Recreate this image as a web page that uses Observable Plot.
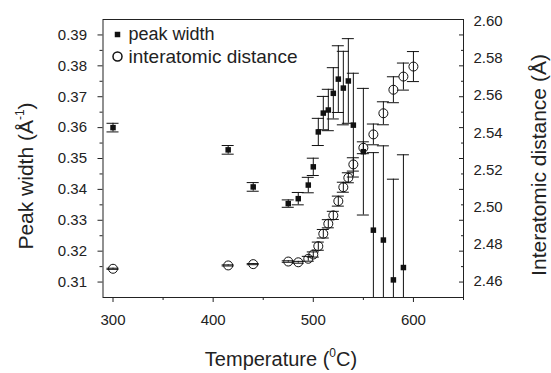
<!DOCTYPE html>
<html><head><meta charset="utf-8">
<script src="https://cdn.jsdelivr.net/npm/d3@7"></script>
<script src="https://cdn.jsdelivr.net/npm/@observablehq/plot@0.6"></script>
<style>
body{margin:0;background:#fff;}
svg{font-family:"Liberation Sans",Arial,sans-serif;}
</style>
</head><body><div id="chart"></div>
<script>
// Peak width (left axis, filled squares)
const widthTemps = [300,415,440,475,485,495,500,505,510,515,520,525,530,535,540,550,560,570,580,590];
const widthVals  = [0.3600,0.3528,0.3408,0.3354,0.3370,0.3414,0.3473,0.3586,0.3647,0.3657,0.3711,0.3757,0.3728,0.3751,0.3608,0.3522,0.3268,0.3236,0.3107,0.3147];
const widthErr   = [0.0014,0.0014,0.0014,0.0012,0.0020,0.0025,0.0028,0.0044,0.0054,0.0067,0.0083,0.0108,0.0119,0.0137,0.0168,0.0205,0.0251,0.0305,0.0326,0.0365];
// Interatomic distance (right axis, open circles)
const distTemps = [300,415,440,475,485,495,500,505,510,515,520,525,530,535,540,550,560,570,580,590,600];
const distVals  = [2.4655,2.4673,2.4680,2.4694,2.4690,2.4709,2.4732,2.4777,2.4844,2.4898,2.4943,2.5020,2.5095,2.5146,2.5218,2.5308,2.5380,2.5494,2.5621,2.5692,2.5746];
const distErr   = [0.0003,0.0003,0.0003,0.0004,0.0005,0.0013,0.0014,0.0022,0.0023,0.0022,0.0022,0.0027,0.0027,0.0027,0.0036,0.0032,0.0056,0.0062,0.0070,0.0073,0.0081];
// Ticks
const xMajor = [300,400,500,600];
const xMinor = [350,450,550,650];
const leftMajor = [0.31,0.32,0.33,0.34,0.35,0.36,0.37,0.38,0.39];
const leftMinor = [0.315,0.325,0.335,0.345,0.355,0.365,0.375,0.385];
const rightLabels = [2.46,2.48,2.50,2.52,2.54,2.56,2.58,2.60];
const xDomain = [290,650];
const leftDomain = [0.305,0.395];
const rightDomain = [2.45,2.60];

const k = (leftDomain[1]-leftDomain[0])/(rightDomain[1]-rightDomain[0]);
const toLeft = v => leftDomain[0] + (v - rightDomain[0]) * k;
const fromLeft = y => rightDomain[0] + (y - leftDomain[0]) / k;

const sq = widthTemps.map((t,i)=>({t, v: widthVals[i], e: widthErr[i]}));
const ci = distTemps.map((t,i)=>({t, v: toLeft(distVals[i]), e: distErr[i]*k}));
const capHalf = 6;
const caps = arr => arr.flatMap(d => [{t:d.t, y:d.v-d.e},{t:d.t, y:d.v+d.e}]);
const ink = "#111";

const chart = Plot.plot({
  width: 551, height: 373,
  marginLeft: 102.5, marginRight: 88, marginTop: 19, marginBottom: 76,
  style: {fontFamily: "Liberation Sans, Arial, sans-serif", fontSize: "15px", color: "#222", background: "white"},
  x: {domain: xDomain},
  y: {domain: leftDomain},
  marks: [
    Plot.axisX(xMajor, {tickSize: 5, tickPadding: 12, label: null, fontSize: 15}),
    Plot.axisX(xMinor, {tickSize: 3, tickFormat: () => "", label: null}),
    Plot.axisY(leftMajor, {tickSize: 5, tickPadding: 11, label: null, tickFormat: d => d.toFixed(2), fontSize: 15}),
    Plot.axisY(leftMinor, {tickSize: 3, tickFormat: () => "", label: null}),
    Plot.axisY(leftMajor, {anchor: "right", tickSize: 5, dx: -5, tickFormat: () => "", label: null}),
    Plot.axisY(leftMinor, {anchor: "right", tickSize: 3, dx: -3, tickFormat: () => "", label: null}),
    Plot.axisY(rightLabels.map(toLeft), {anchor: "right", tickSize: 0, tickPadding: 10, dy: 2, label: null, tickFormat: d => fromLeft(d).toFixed(2), fontSize: 15}),
    Plot.ruleX(sq, {x: "t", y1: d => d.v - d.e, y2: d => d.v + d.e, stroke: ink, clip: true}),
    Plot.ruleY(caps(sq), {y: "y", x1: d => d.t - capHalf, x2: d => d.t + capHalf, stroke: ink, clip: true}),
    Plot.ruleX(ci, {x: "t", y1: d => d.v - d.e, y2: d => d.v + d.e, stroke: ink, clip: true}),
    Plot.ruleY(caps(ci), {y: "y", x1: d => d.t - capHalf, x2: d => d.t + capHalf, stroke: ink, clip: true}),
    Plot.dot(sq, {x: "t", y: "v", symbol: "square", r: 3.1, fill: ink, stroke: null}),
    Plot.dot(ci, {x: "t", y: "v", r: 4.5, stroke: ink, fill: "none", strokeWidth: 1}),
    // legend
    Plot.dot([0], {frameAnchor: "top-left", dx: 14.5, dy: 15, symbol: "square", r: 3.1, fill: ink, stroke: null}),
    Plot.dot([0], {frameAnchor: "top-left", dx: 14.5, dy: 37, r: 4.5, stroke: ink, fill: "none"}),
    Plot.text(["peak width"], {frameAnchor: "top-left", dx: 25.5, dy: 15, text: d => d, textAnchor: "start", lineAnchor: "middle", fontSize: 18, fill: "#222"}),
    Plot.text(["interatomic distance"], {frameAnchor: "top-left", dx: 25.5, dy: 37, text: d => d, textAnchor: "start", lineAnchor: "middle", fontSize: 19, fill: "#222"}),
    Plot.frame({stroke: "#222"})
  ]
});
document.getElementById("chart").appendChild(chart);

const svg = d3.select(chart);
// x title
const xt = svg.append("text").attr("x", 281).attr("y", 366).attr("text-anchor", "middle")
  .attr("font-size", 20).attr("fill", "#222");
xt.append("tspan").text("Temperature (");
xt.append("tspan").attr("font-size", 12).attr("dy", -9).text("0");
xt.append("tspan").attr("dy", 9).text("C)");
// left title
const lt = svg.append("text").attr("transform", "translate(33,176) rotate(-90)").attr("text-anchor", "middle")
  .attr("font-size", 21).attr("fill", "#222");
lt.append("tspan").text("Peak width (Å");
lt.append("tspan").attr("font-size", 12).attr("dy", -9).text("-1");
lt.append("tspan").attr("dy", 9).text(")");
// right title
svg.append("text").attr("transform", "translate(546,165) rotate(-90)").attr("text-anchor", "middle")
  .attr("font-size", 21).attr("fill", "#222").text("Interatomic distance (Å)");
</script>
</body></html>
